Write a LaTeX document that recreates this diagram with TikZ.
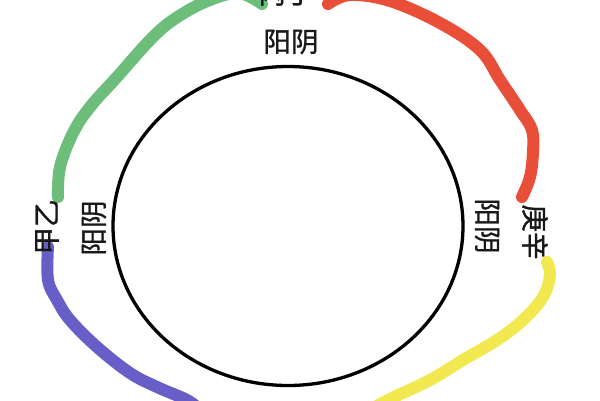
\documentclass[tikz,border=0pt]{standalone}
\usepackage{fontspec}
\usetikzlibrary{shapes.geometric}
\newfontfamily\cjk[FakeBold=1.2]{Noto Sans CJK SC}
\definecolor{cgreen}{RGB}{108,190,122}
\definecolor{cred}{RGB}{232,78,56}
\definecolor{cyellow}{RGB}{242,232,80}
\definecolor{cblue}{RGB}{104,94,200}
\tikzset{
  lbl/.style={font=\cjk\fontsize{27.5}{28}\selectfont, inner sep=0pt, text=black!90},
  arc/.style={line width=12pt, line cap=round, line join=round},
}
\begin{document}
\begin{tikzpicture}[x=1pt,y=-1pt]
\useasboundingbox[fill=white] (0,0) rectangle (600,400);
\begin{scope}
\clip (0,0) rectangle (600,400);
\node[draw=black, line width=3.3pt, ellipse, minimum width=350pt, minimum height=319pt, inner sep=0pt] (c) at (288,226) {};
\draw[arc, cgreen] plot[smooth, tension=0.6] coordinates {(58,197) (60,167) (73,133) (90,107) (117,77) (150,40) (173,20) (205,2) (238,-7) (262,4)};
\draw[arc, cred] plot[smooth, tension=0.6] coordinates {(328,4) (350,-5) (390,1) (440,23) (480,50) (500,80) (520,110) (532,130) (533,152) (530,177) (522,197)};
\draw[arc, cyellow] plot[smooth, tension=0.6] coordinates {(547,262) (550,275) (543,297) (523,320) (497,340) (463,360) (430,380) (390,399) (370,410)};
\draw[arc, cblue] plot[smooth, tension=0.6] coordinates {(48,247) (48,280) (57,300) (70,320) (97,347) (130,373) (157,387) (187,400) (200,410)};
\node[lbl] (top) at (291,42) {阳阴};
\node[lbl] (topo) at (286,-6) {丙丁};
\node[lbl, rotate=90] (lo) at (47,227) {甲乙};
\node[lbl, rotate=90] (li) at (94,228) {阳阴};
\node[lbl, rotate=-90] (ri) at (487,226) {阳阴};
\node[lbl, rotate=-90] (ro) at (535,232) {庚辛};
\node[lbl, rotate=180] (bo) at (291,414) {戊己};
\end{scope}
\end{tikzpicture}
\end{document}
